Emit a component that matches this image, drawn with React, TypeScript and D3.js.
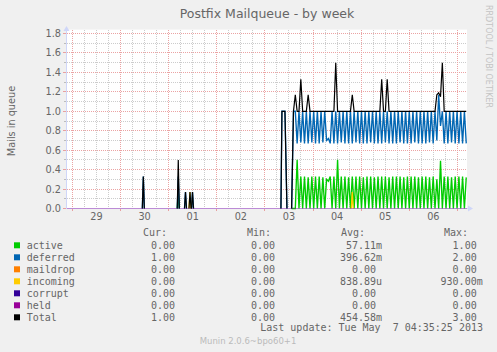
import React from "react";
import * as d3 from "d3";

const W = 497;
const H = 352;

// legend
const seriesNames = ["active", "deferred", "maildrop", "incoming", "corrupt", "held", "Total"];
const seriesColors = ["#00CC00", "#0066B3", "#FF8000", "#FFCC00", "#330099", "#990099", "#000000"];
const curValues = ["0.00", "1.00", "0.00", "0.00", "0.00", "0.00", "1.00"];
const minValues = ["0.00", "0.00", "0.00", "0.00", "0.00", "0.00", "0.00"];
const avgValues = ["57.11m", "396.62m", "0.00", "838.89u", "0.00", "0.00", "454.58m"];
const maxValues = ["1.00", "2.00", "0.00", "930.00m", "0.00", "0.00", "3.00"];

const yMajorTicks = [0, 0.2, 0.4, 0.6, 0.8, 1.0, 1.2, 1.4, 1.6, 1.8];
const yMinorTicks = [0.1, 0.3, 0.5, 0.7, 0.9, 1.1, 1.3, 1.5, 1.7];

// dense part, one sample every 55 minutes starting at denseStart
const denseStart = "2013-05-03T13:20:00Z";
const denseStepMin = 55;

const totalDense = [
  0, 1, 1.17, 1, 1, 1.33, 1, 1, 1, 1.17,
  1, 1, 1, 1, 1, 1, 1, 1, 1, 1,
  1, 1, 1, 1, 1.5, 1, 1, 1, 1, 1,
  1, 1, 1, 1.17, 1, 1, 1, 1, 1, 1,
  1, 1, 1, 1, 1, 1, 1, 1, 1, 1.33,
  1, 1, 1.33, 1, 1, 1, 1, 1, 1, 1,
  1, 1, 1, 1, 1, 1, 1, 1, 1, 1,
  1, 1, 1, 1, 1, 1, 1, 1, 1, 1.17,
  1.19, 1.15, 1.5, 1, 1, 1, 1, 1, 1, 1,
  1, 1, 1, 1, 1, 1,
];

const deferredDense = [
  0, 1, 1, 0.67, 1, 0.68, 1, 0.67, 1, 0.67,
  1, 0.68, 1, 0.67, 1, 0.67, 1, 0.68, 1, 0.7,
  0.72, 0.67, 1, 0.67, 1, 0.67, 1, 0.68, 1, 0.67,
  1, 0.67, 1, 0.67, 1, 0.68, 1, 0.67, 1, 0.67,
  1, 0.67, 1, 0.68, 1, 0.67, 1, 0.67, 1, 0.67,
  1, 0.68, 1, 0.67, 1, 0.67, 1, 0.67, 1, 0.68,
  1, 0.67, 1, 0.67, 1, 0.67, 1, 0.68, 1, 0.67,
  1, 0.67, 1, 0.67, 1, 0.68, 1, 0.67, 1, 0.7,
  1.17, 0.85, 1, 0.67, 1, 0.67, 1, 0.68, 1, 0.67,
  1, 0.67, 1, 0.67, 1, 0.67,
];

const activeDense = [
  0, 0, 0, 0.5, 0, 0.33, 0, 0.33, 0, 0.32,
  0, 0.33, 0, 0.33, 0, 0.33, 0, 0.32, 0, 0.3,
  0.28, 0.33, 0, 0.33, 0, 0.5, 0, 0.33, 0, 0.33,
  0, 0.32, 0, 0.33, 0, 0.33, 0, 0.33, 0, 0.32,
  0, 0.33, 0, 0.33, 0, 0.32, 0, 0.33, 0, 0.33,
  0, 0.33, 0, 0.32, 0, 0.33, 0, 0.33, 0, 0.33,
  0, 0.32, 0, 0.33, 0, 0.33, 0, 0.33, 0, 0.32,
  0, 0.33, 0, 0.33, 0, 0.32, 0, 0.33, 0, 0.3,
  0, 0.49, 0, 0.33, 0, 0.33, 0, 0.32, 0, 0.33,
  0, 0.33, 0, 0.33, 0, 0.32,
];

// sparse bits before the dense part: [time, value] segments
const totalEarly: [string, number][][] = [
  [["2013-04-30T10:52Z", 0], ["2013-04-30T11:22Z", 0.33], ["2013-04-30T11:52Z", 0]],
  [["2013-05-01T04:18Z", 0], ["2013-05-01T04:48Z", 0.5], ["2013-05-01T05:18Z", 0]],
  [["2013-05-01T07:54Z", 0], ["2013-05-01T08:24Z", 0.17], ["2013-05-01T08:54Z", 0]],
  [["2013-05-01T10:09Z", 0], ["2013-05-01T10:39Z", 0.17], ["2013-05-01T11:09Z", 0]],
  [["2013-05-01T11:24Z", 0], ["2013-05-01T11:54Z", 0.17], ["2013-05-01T12:24Z", 0]],
  [["2013-05-03T08:00Z", 0], ["2013-05-03T08:30Z", 1], ["2013-05-03T10:00Z", 1], ["2013-05-03T11:00Z", 0]],
];
const deferredEarly: [string, number][][] = [
  [["2013-04-30T10:52Z", 0], ["2013-04-30T11:22Z", 0.33], ["2013-04-30T11:52Z", 0]],
  [["2013-05-01T04:18Z", 0], ["2013-05-01T04:48Z", 0.33], ["2013-05-01T05:18Z", 0]],
  [["2013-05-01T07:54Z", 0], ["2013-05-01T08:24Z", 0.17], ["2013-05-01T08:54Z", 0]],
  [["2013-05-01T11:24Z", 0], ["2013-05-01T11:54Z", 0.17], ["2013-05-01T12:24Z", 0]],
  [["2013-05-03T08:00Z", 0], ["2013-05-03T08:30Z", 1], ["2013-05-03T10:00Z", 1], ["2013-05-03T11:00Z", 0]],
];
const activeEarly: [string, number][][] = [
  [["2013-05-01T04:18Z", 0], ["2013-05-01T04:48Z", 0.17], ["2013-05-01T05:18Z", 0]],
];
const incomingSpikes: [string, number][][] = [
  [["2013-05-01T10:09Z", 0], ["2013-05-01T10:39Z", 0.17], ["2013-05-01T11:09Z", 0]],
  [["2013-05-04T19:05Z", 0], ["2013-05-04T19:35Z", 0.17], ["2013-05-04T20:05Z", 0]],
];

const domainStart = new Date("2013-04-28T21:18:30Z");
const domainEnd = new Date("2013-05-07T04:47:30Z");

const x = d3.scaleUtc().domain([domainStart, domainEnd]).range([67, 467]);
const y = d3.scaleLinear().domain([0, 1.8]).range([208.5, 33.5]);

const snap = (v: number) => Math.floor(v) + 0.5;
const fmtDay = d3.utcFormat("%d");

type Pt = { t: Date; v: number };

const densePoints = (vals: number[]): Pt[] => {
  const t0 = new Date(denseStart).getTime();
  return vals.map((v, i) => ({ t: new Date(t0 + i * denseStepMin * 60000), v }));
};
const segPoints = (seg: [string, number][]): Pt[] => seg.map(([t, v]) => ({ t: new Date(t), v }));

const line = d3
  .line<Pt>()
  .x((d) => x(d.t))
  .y((d) => y(d.v));

const App = () => {
  const plotTop = y(1.84);
  const majorDays = d3.utcDay.range(domainStart, domainEnd);
  const minorHours = d3.utcHour
    .every(6)!
    .range(domainStart, domainEnd)
    .filter((d) => d.getUTCHours() !== 0);
  const labelDays = d3.utcDay
    .range(d3.utcDay.offset(domainStart, -1), domainEnd)
    .map((d) => d3.utcHour.offset(d, 12))
    .filter((d) => d > domainStart && d < domainEnd);

  const minorGrid = "#cccccc";
  const majorGrid = "#eba3a3";
  const axisCol = "#CFD6F8";
  const font = "'DejaVu Sans', sans-serif";
  const mono = "'DejaVu Sans Mono', monospace";
  const txt = "#666666";

  const seriesLines: { pts: Pt[]; color: string; key: string }[] = [];
  activeEarly.forEach((s, i) => seriesLines.push({ pts: segPoints(s), color: seriesColors[0], key: "ae" + i }));
  seriesLines.push({ pts: densePoints(activeDense), color: seriesColors[0], key: "ad" });
  deferredEarly.forEach((s, i) => seriesLines.push({ pts: segPoints(s), color: seriesColors[1], key: "de" + i }));
  seriesLines.push({ pts: densePoints(deferredDense), color: seriesColors[1], key: "dd" });
  incomingSpikes.forEach((s, i) => seriesLines.push({ pts: segPoints(s), color: seriesColors[3], key: "ie" + i }));

  const rows = seriesNames.map((n, i) => 249 + i * 12);

  return (
    <svg
      width={W}
      height={H}
      style={{ position: "absolute", left: 0, top: 0, display: "block" }}
    >
      <rect x={0} y={0} width={W} height={H} fill="#F0F0F0" />
      <rect x={67} y={plotTop} width={400} height={208.5 - plotTop} fill="#FFFFFF" />

      {/* grid */}
      <g strokeWidth={1} strokeDasharray="1,1" shapeRendering="crispEdges">
        {minorHours.map((d, i) => (
          <line key={"vm" + i} x1={snap(x(d))} x2={snap(x(d))} y1={plotTop} y2={208} stroke={minorGrid} />
        ))}
        {yMinorTicks.map((v, i) => (
          <line key={"hm" + i} x1={67} x2={467} y1={snap(y(v))} y2={snap(y(v))} stroke={minorGrid} />
        ))}
        {majorDays.map((d, i) => (
          <line key={"vM" + i} x1={snap(x(d))} x2={snap(x(d))} y1={plotTop} y2={208} stroke={majorGrid} />
        ))}
        {yMajorTicks.slice(1).map((v, i) => (
          <line key={"hM" + i} x1={67} x2={467} y1={snap(y(v))} y2={snap(y(v))} stroke={majorGrid} />
        ))}
      </g>

      {/* axis ticks */}
      <g shapeRendering="crispEdges">
        {yMinorTicks.map((v, i) => (
          <line key={"tm" + i} x1={64} x2={66} y1={snap(y(v))} y2={snap(y(v))} stroke="#bbbbbb" />
        ))}
        {yMajorTicks.map((v, i) => (
          <line key={"tM" + i} x1={63} x2={66} y1={snap(y(v))} y2={snap(y(v))} stroke="#e8a0a0" />
        ))}
        {majorDays.map((d, i) => (
          <line key={"tx" + i} x1={snap(x(d))} x2={snap(x(d))} y1={209} y2={211} stroke="#e8a0a0" />
        ))}
      </g>

      {/* axes */}
      <line x1={66.5} x2={66.5} y1={209} y2={30} stroke={axisCol} />
      <path d="M63.5,31 L69.5,31 L66.5,26 Z" fill={axisCol} />
      <line x1={66} x2={469} y1={208.5} y2={208.5} stroke={axisCol} />
      <path d="M468,205.5 L468,211.5 L473,208.5 Z" fill={axisCol} />

      {/* data */}
      <g fill="none" strokeWidth={1.35} strokeLinejoin="miter">
        {seriesLines.map((s) => (
          <path key={s.key} d={line(s.pts) || ""} stroke={s.color} />
        ))}
        <line
          x1={x(domainStart)}
          x2={x(domainEnd)}
          y1={y(0)}
          y2={y(0)}
          strokeWidth={1}
          stroke={seriesColors[5]}
          strokeOpacity={0.35}
        />
        {totalEarly.map((s, i) => (
          <path key={"te" + i} d={line(segPoints(s)) || ""} stroke={seriesColors[6]} strokeWidth={1.2} />
        ))}
        <path d={line(densePoints(totalDense)) || ""} stroke={seriesColors[6]} strokeWidth={1.2} />
      </g>

      {/* axis labels */}
      <g fontFamily={font} fontSize={9.72} fill={txt}>
        {yMajorTicks.map((v, i) => (
          <text key={"yl" + i} x={61} y={y(v) + 3.5} textAnchor="end">
            {v.toFixed(1)}
          </text>
        ))}
        {labelDays.map((d, i) => (
          <text key={"xl" + i} x={x(d)} y={220} textAnchor="middle">
            {fmtDay(d)}
          </text>
        ))}
        <text transform="translate(15,121) rotate(-90)" textAnchor="middle">
          Mails in queue
        </text>
      </g>

      <text x={267} y={18} textAnchor="middle" fontFamily={font} fontSize={12.5} fill={txt}>
        Postfix Mailqueue - by week
      </text>

      <text
        transform="translate(486,5) rotate(90)"
        fontFamily={font}
        fontSize={8}
        fill="#c4c4c4"
      >
        RRDTOOL / TOBI OETIKER
      </text>

      {/* legend */}
      <g fontFamily={mono} fontSize={10} fill={txt}>
        <text x={167} y={236} textAnchor="end">Cur:</text>
        <text x={271} y={236} textAnchor="end">Min:</text>
        <text x={365} y={236} textAnchor="end">Avg:</text>
        <text x={468} y={236} textAnchor="end">Max:</text>
        {seriesNames.map((n, i) => {
          const by = rows[i];
          const cols: [string[], number][] = [
            [curValues, 175],
            [minValues, 275],
            [avgValues, 376],
            [maxValues, 476.7],
          ];
          return (
            <g key={n}>
              <rect x={14} y={by - 6.7} width={6} height={6} fill={seriesColors[i]} />
              <text x={26.7} y={by}>{n}</text>
              {cols.map(([arr, cx], j) => {
                const s = arr[i];
                const unit = /[mu]$/.test(s) ? s.slice(-1) : "";
                const num = unit ? s.slice(0, -1) : s;
                return (
                  <g key={j}>
                    <text x={cx} y={by} textAnchor="end">{num}</text>
                    {unit && <text x={cx} y={by}>{unit}</text>}
                  </g>
                );
              })}
            </g>
          );
        })}
        <text x={483} y={331} textAnchor="end" style={{ whiteSpace: "pre" }}>
          {"Last update: Tue May  7 04:35:25 2013"}
        </text>
      </g>

      <text x={248} y={344} textAnchor="middle" fontFamily={font} fontSize={8.5} fill="#bbbbbb">
        Munin 2.0.6~bpo60+1
      </text>
    </svg>
  );
};

export default App;
